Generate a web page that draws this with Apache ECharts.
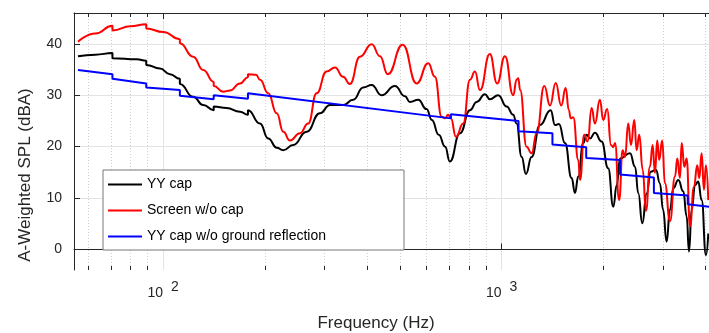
<!DOCTYPE html>
<html><head><meta charset="utf-8">
<script src="https://cdn.jsdelivr.net/npm/echarts@6/dist/echarts.min.js"></script>
<style>html,body{margin:0;padding:0;background:#fff}#c{width:709px;height:333px}</style>
</head><body><div id="c"></div>
<script>
const seriesNames = ['YY cap', 'Screen w/o cap', 'YY cap w/o ground reflection'];
const seriesColors = ['#000000', '#ff0000', '#0000ff'];

// [frequency Hz, A-weighted SPL dBA]
const yyCap = [[56,37.6],[63,37.9],[70.8,38.2],[70.8,37.2],[83.5,37.0],[89.1,36.7],[89.1,35.9],[97.8,35.2],[104.7,34.1],[112,33.2],[112,32.2],[122.6,29.7],[131.3,28.1],[141,27.1],[141,27.8],[153.9,27.5],[168.6,26.8],[178,26.2],[178,27.1],[193.2,24.5],[204.3,21.6],[216.5,19.8],[226.4,19.3],[242,20.3],[265.4,22.9],[290.4,26.5],[311.1,28.1],[340,28.1],[364.2,29.1],[389.9,31.5],[413,32.0],[441.9,30.0],[484,31.8],[518,29.8],[535.8,28.7],[567,29.1],[600,27.3],[622,25.2],[652,22.3],[681,20.0],[703,17.1],[753,22.6],[806,27.1],[844,28.7],[893,30.2],[923,29.2],[977,30.0],[1035,27.8],[1082,26.2],[1107,24.5],[1146,18.0],[1180,14.7],[1226,18.0],[1298,24.2],[1396,27.1],[1438,24.2],[1477,24.4],[1539,20.7],[1610,13.9],[1647,11.0],[1685,14.2],[1742,20.7],[1783,22.3],[1824,21.6],[1887,22.7],[1974,21.0],[2065,15.8],[2138,8.3],[2188,12.5],[2238,17.7],[2395,18.7],[2479,16.1],[2535,10.9],[2604,5.1],[2683,10.9],[2757,15.1],[2858,15.5],[2935,12.9],[3000,7.7],[3073,1.5],[3144,7.7],[3215,11.9],[3327,13.5],[3442,11.3],[3522,6.4],[3578,-0.4],[3644,7.7],[3728,12.5],[3810,13.2],[3900,9.6],[4016,-1.1],[4080,3.1]];

const screenNoCap = [[56,40.4],[63,42.0],[70.8,43.5],[70.8,42.6],[80,43.4],[89.1,43.8],[89.1,43.0],[100,42.3],[112,40.9],[112,40.1],[122.6,37.5],[131.3,34.9],[141,32.6],[141,31.8],[150.4,30.7],[157.4,30.9],[168.6,32.3],[178,33.5],[178,34.1],[188,34.0],[193.2,33.0],[204.3,30.4],[216.5,26.5],[226.4,22.9],[236.8,21.2],[253.6,22.6],[268.2,24.5],[284,30.4],[303.9,34.6],[321.8,35.4],[340,33.6],[356.1,32.2],[381.3,37.5],[413,39.9],[437,37.6],[461,34.1],[510,39.8],[561,32.3],[607,36.2],[635,33.6],[665,25.8],[680,25.5],[695,26.2],[708,25.5],[733,21.9],[770,24.5],[806,33.0],[834,34.6],[863,31.0],[923,38.0],[970,32.3],[1023,37.6],[1082,30.0],[1107,33.0],[1120,33.3],[1134,31.0],[1185,20.0],[1226,18.7],[1269,22.6],[1337,31.8],[1390,28.0],[1445,32.4],[1500,28.0],[1546,31.4],[1580,27.1],[1600,25.5],[1628,25.7],[1685,17.4],[1705,13.5],[1754,22.3],[1795,21.0],[1845,27.5],[1887,24.5],[1952,29.1],[1996,25.2],[2051,27.3],[2105,20.3],[2138,19.9],[2163,20.7],[2225,9.6],[2278,19.3],[2315,18.0],[2367,24.5],[2411,20.3],[2466,25.2],[2506,19.3],[2551,22.3],[2611,15.5],[2670,7.5],[2743,16.1],[2794,20.3],[2838,14.9],[2883,21.2],[2921,17.4],[2982,21.2],[3037,12.9],[3144,5.5],[3253,14.2],[3305,17.7],[3365,13.9],[3405,20.7],[3466,16.1],[3522,17.7],[3602,4.5],[3702,12.2],[3784,16.4],[3837,13.9],[3900,18.7],[3962,11.6],[4016,16.4],[4080,9.6]];

const yyCapNoGround = [[56,34.9],[70.8,34.1],[70.8,33.2],[89.1,32.3],[89.1,31.5],[112,31.0],[112,29.9],[141,29.2],[141,30.0],[178,29.3],[178,30.4],[708,25.5],[708,26.3],[1122,25.0],[1122,23.0],[1413,22.6],[1413,20.4],[1778,19.9],[1778,17.8],[2239,17.4],[2239,14.6],[2818,14.0],[2818,11.0],[3548,10.5],[3548,8.8],[4100,8.3]];

const xMajorTicks = [100, 1000];
const xMinorTicks = [60, 70, 80, 90, 200, 300, 400, 500, 600, 700, 800, 900, 2000, 3000, 4000];
const yTicks = [0, 10, 20, 30, 40];
const xRange = [54.5, 4100];
const yRange = [-4, 46];
const xTitle = 'Frequency (Hz)';
const yTitle = 'A-Weighted SPL (dBA)';

const FONT = '"Liberation Sans", Arial, Helvetica, sans-serif';
const AX = '#262626';
const chart = echarts.init(document.getElementById('c'), null, {renderer: 'canvas'});

function baseX(extra) {
  return Object.assign({
    type: 'log', logBase: 10, min: xRange[0], max: xRange[1],
    gridIndex: 0,
    axisLine: {show: false},
    axisLabel: {show: false},
    axisTick: {show: false},
    splitLine: {show: false},
    minorTick: {show: false},
    minorSplitLine: {show: false}
  }, extra);
}

const option = {
  animation: false,
  backgroundColor: '#fff',
  textStyle: {fontFamily: FONT},
  grid: {left: 74, top: 13, right: 0, bottom: 63, containLabel: false, outerBoundsMode: 'none'},
  legend: {
    orient: 'vertical', left: 103, top: 170,
    data: seriesNames,
    icon: 'rect', itemWidth: 34, itemHeight: 2, itemGap: 5,
    padding: [4, 78, 3, 5],
    backgroundColor: '#fff', borderColor: '#777', borderWidth: 1, borderRadius: 0,
    textStyle: {fontFamily: FONT, fontSize: 14, color: '#000', lineHeight: 16, padding: [0, 0, 5, 0]},
    selectedMode: false, z: 20
  },
  xAxis: [
    baseX({
      position: 'bottom',
      axisLine: {show: true, lineStyle: {color: AX, width: 1}},
      axisTick: {show: true, inside: true, length: 6, customValues: xMajorTicks, lineStyle: {color: AX}},
      axisLabel: {
        show: true, customValues: xMajorTicks, margin: 10,
        formatter: function (v) { return '{b|10}{s|' + Math.round(Math.log10(v)) + '}'; },
        rich: {
          b: {fontFamily: FONT, fontSize: 14, color: AX},
          s: {fontFamily: FONT, fontSize: 14, color: AX, padding: [0, 0, 13, 8]}
        }
      },
      splitLine: {show: true, lineStyle: {color: '#e3e3e3', width: 1}},
      name: xTitle, nameLocation: 'middle', nameGap: 45,
      nameTextStyle: {fontFamily: FONT, fontSize: 17, color: AX, padding: [0, 31, 0, 0]}
    }),
    baseX({
      position: 'bottom',
      axisTick: {show: true, inside: true, length: 4, customValues: xMinorTicks, lineStyle: {color: AX}},
      splitLine: {show: true, lineStyle: {color: '#d0d0d0', width: 1, type: [1, 2]}}
    }),
    baseX({
      position: 'top',
      axisLine: {show: true, lineStyle: {color: AX, width: 1}},
      axisTick: {show: true, inside: true, length: 4, customValues: xMinorTicks, lineStyle: {color: AX}}
    }),
    baseX({
      position: 'top',
      axisTick: {show: true, inside: true, length: 6, customValues: xMajorTicks, lineStyle: {color: AX}}
    })
  ],
  yAxis: [{
    type: 'value', min: yRange[0], max: yRange[1],
    axisLine: {show: true, lineStyle: {color: AX, width: 1}},
    axisTick: {show: true, inside: true, length: 6, customValues: yTicks, lineStyle: {color: AX}},
    axisLabel: {customValues: yTicks, margin: 12, fontFamily: FONT, fontSize: 14, color: AX},
    splitLine: {show: true, lineStyle: {color: '#e3e3e3', width: 1}},
    name: yTitle, nameLocation: 'middle', nameGap: 40,
    nameTextStyle: {fontFamily: FONT, fontSize: 17, color: AX, padding: [0, 67, 0, 0]}
  }],
  series: [
    {name: seriesNames[0], data: yyCap, color: seriesColors[0], smooth: 0.5},
    {name: seriesNames[1], data: screenNoCap, color: seriesColors[1], smooth: 0.5},
    {name: seriesNames[2], data: yyCapNoGround, color: seriesColors[2], smooth: false}
  ].map(function (s, i) {
    return {
      name: s.name, type: 'line', xAxisIndex: 0, yAxisIndex: 0,
      data: s.data, symbol: 'none', showSymbol: false,
      smooth: s.smooth, smoothMonotone: 'x',
      lineStyle: {color: s.color, width: 2},
      itemStyle: {color: s.color},
      z: 2 + i
    };
  })
};
chart.setOption(option);
</script>
</body></html>
